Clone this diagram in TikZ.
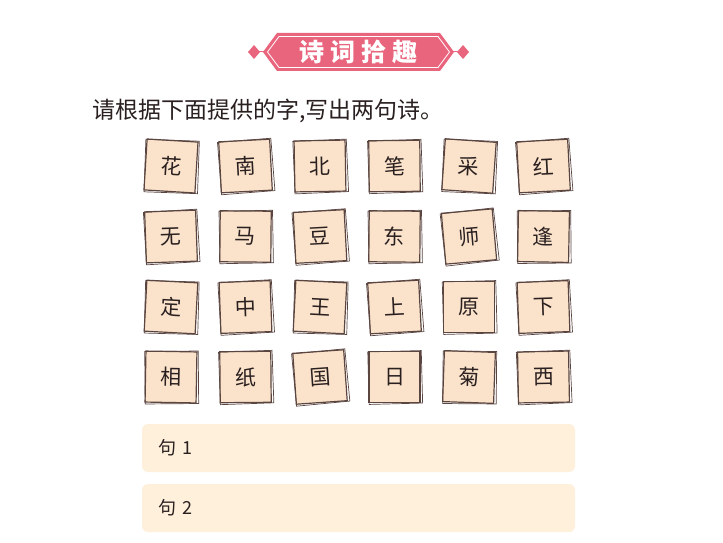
\documentclass[tikz,border=0pt]{standalone}
\usepackage{fontspec}
\newfontfamily\cjk{Noto Sans CJK SC}
\definecolor{bannerpink}{HTML}{E9647D}
\definecolor{cardfill}{HTML}{FBE3CB}
\definecolor{cardline}{HTML}{5A4540}
\definecolor{textc}{HTML}{2A2020}
\definecolor{barfill}{HTML}{FEF0DA}
\tikzset{
  card/.style={draw=cardline, line width=1.2pt, fill=cardfill, minimum width=51pt, minimum height=51pt, inner sep=0pt, text=textc, font=\cjk\fontsize{21}{21}\selectfont},
  cardedge/.style={draw=cardline, line width=0.7pt, minimum width=53.5pt, minimum height=52.5pt, inner sep=0pt},
  answerbar/.style={fill=barfill, rounded corners=6pt, minimum width=433pt, minimum height=48pt, inner sep=0pt},
  answerlabel/.style={anchor=west, text=textc, font=\cjk\fontsize{18}{18}\selectfont, inner sep=0pt},
  bannertext/.style={text=white, font=\cjk\bfseries\fontsize{25}{25}\selectfont, inner sep=0pt}
}
\begin{document}
\begin{tikzpicture}[x=1pt,y=-1pt]
\useasboundingbox[fill=white] (0,0) rectangle (723,543);
% banner
\fill[bannerpink] (263,52) -- (277,33) -- (440,33) -- (454,52) -- (440,71) -- (277,71) -- cycle;
\draw[white, line width=0.8pt] (267.5,52) -- (279,36.5) -- (438,36.5) -- (449.5,52) -- (438,67.5) -- (279,67.5) -- cycle;
\fill[bannerpink] (254,45) -- (260,52) -- (254,59) -- (248,52) -- cycle;
\fill[bannerpink] (463,45) -- (469,52) -- (463,59) -- (457,52) -- cycle;
\draw[bannerpink, line width=1pt] (259,52) -- (264,52);
\draw[bannerpink, line width=1pt] (453,52) -- (458,52);
\node[bannertext] (title) at (358.5,52) {诗\hspace{6pt}词\hspace{6pt}拾\hspace{6pt}趣};
% instruction
\node[anchor=west, inner sep=0pt, text=textc, font=\cjk\fontsize{23}{23}\selectfont] (instr) at (92,111) {请根据下面提供的字,写出两句诗。};
% cards
\foreach \cx/\cy/\ch/\ang [count=\i] in {
  171/166/花/-3.5, 245.5/166/南/3, 320/166/北/1, 394.5/166/笔/0.5, 469/166/采/-4, 543.5/166/红/3,
  171/236.5/无/2, 245.5/236.5/马/-0.5, 320/236.5/豆/3, 394.5/236.5/东/-0.5, 469/236.5/师/5, 543.5/236.5/逢/-1,
  171/307/定/-3, 245.5/307/中/2, 320/307/王/-3, 394.5/307/上/3, 469/307/原/0, 543.5/307/下/2,
  171/377/相/-1, 245.5/377/纸/0.5, 320/377/国/4, 394.5/377/日/0, 469/377/菊/-2, 543.5/377/西/1}{
  \node[card, rotate=\ang] (c\i) at (\cx,\cy) {\ch};
  \node[cardedge, rotate=\ang+1.5] (e\i) at ([shift={(0.7,0.5)}]c\i.center) {};
}
% answer bars
\node[answerbar] (bar1) at (358.5,448) {};
\node[answerbar] (bar2) at (358.5,508) {};
\node[answerlabel] (lab1) at (158,448) {句\hspace{6pt}1};
\node[answerlabel] (lab2) at (158,508) {句\hspace{6pt}2};
\end{tikzpicture}
\end{document}
